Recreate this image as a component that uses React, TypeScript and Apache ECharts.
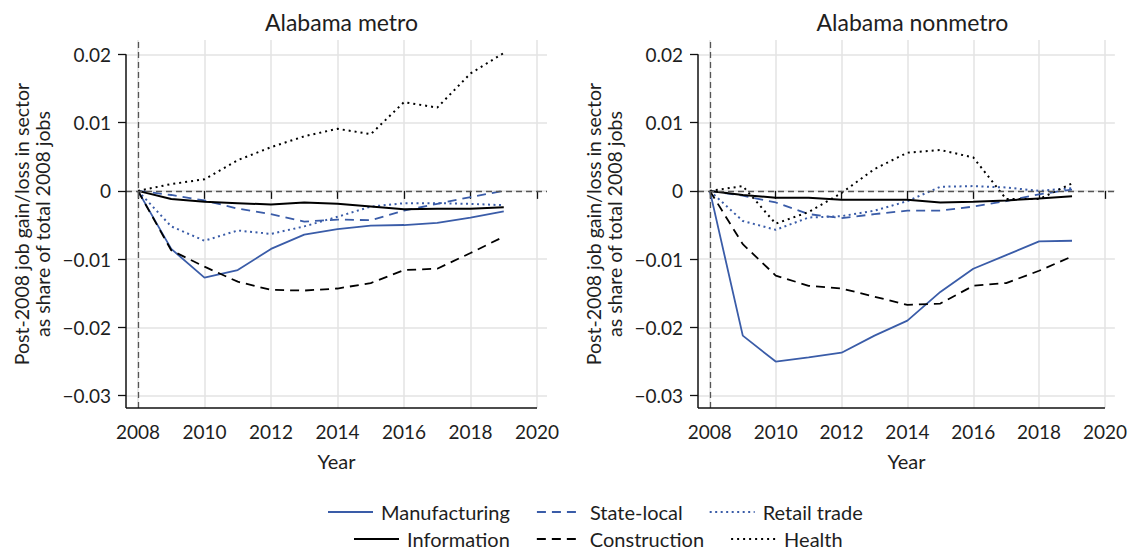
import React, { useEffect, useRef } from "react";
import * as echarts from "echarts";

// Years of observation and axis ticks
const years = [2008, 2009, 2010, 2011, 2012, 2013, 2014, 2015, 2016, 2017, 2018, 2019];
const xTicks = [2008, 2010, 2012, 2014, 2016, 2018, 2020];
const yTicks = [-0.03, -0.02, -0.01, 0, 0.01, 0.02];
const panelTitles = ["Alabama metro", "Alabama nonmetro"];
const sectorNames = ["Manufacturing", "State-local", "Retail trade", "Information", "Construction", "Health"];
const yAxisTitle = "Post-2008 job gain/loss in sector\nas share of total 2008 jobs";
const xAxisTitle = "Year";

// Alabama metro: post-2008 change as share of total 2008 jobs
const metroManufacturing = [0, -0.0085, -0.0127, -0.0116, -0.0085, -0.0064, -0.0056, -0.0051, -0.005, -0.0047, -0.0039, -0.003];
const metroStateLocal = [0, -0.0006, -0.0014, -0.0026, -0.0034, -0.0045, -0.0042, -0.0043, -0.0029, -0.0019, -0.0009, 0.0];
const metroRetail = [0, -0.0052, -0.0073, -0.0058, -0.0063, -0.0052, -0.0038, -0.0023, -0.0018, -0.0018, -0.0019, -0.0021];
const metroInformation = [0, -0.0012, -0.0016, -0.0018, -0.002, -0.0017, -0.0019, -0.0023, -0.0027, -0.0026, -0.0026, -0.0024];
const metroConstruction = [0, -0.0087, -0.0111, -0.0133, -0.0145, -0.0146, -0.0143, -0.0135, -0.0116, -0.0114, -0.0091, -0.0067];
const metroHealth = [0, 0.001, 0.0017, 0.0045, 0.0064, 0.008, 0.0091, 0.0083, 0.013, 0.0122, 0.0172, 0.0202];

// Alabama nonmetro
const nonmetroManufacturing = [0, -0.0212, -0.025, -0.0244, -0.0237, -0.0212, -0.019, -0.0148, -0.0114, -0.0094, -0.0074, -0.0073];
const nonmetroStateLocal = [0, -0.0007, -0.0017, -0.0034, -0.004, -0.0034, -0.0029, -0.0029, -0.0023, -0.0015, -0.0005, 0.0002];
const nonmetroRetail = [0, -0.0044, -0.0057, -0.0039, -0.0037, -0.0029, -0.0015, 0.0006, 0.0007, 0.0005, 0.0, 0.0004];
const nonmetroInformation = [0, -0.0006, -0.001, -0.001, -0.0013, -0.0013, -0.0013, -0.0017, -0.0016, -0.0014, -0.0011, -0.0008];
const nonmetroConstruction = [0, -0.0078, -0.0124, -0.0139, -0.0143, -0.0155, -0.0167, -0.0165, -0.0139, -0.0135, -0.0117, -0.0096];
const nonmetroHealth = [0, 0.0007, -0.0048, -0.0031, -0.0003, 0.0032, 0.0056, 0.006, 0.0049, -0.0012, -0.0012, 0.0011];

const panels = [
  [metroManufacturing, metroStateLocal, metroRetail, metroInformation, metroConstruction, metroHealth],
  [nonmetroManufacturing, nonmetroStateLocal, nonmetroRetail, nonmetroInformation, nonmetroConstruction, nonmetroHealth],
];

const BLUE = "#3a5ca8";
const BLACK = "#000000";
const TEXT = "#1e1e1e";
const FONT = "Lato, 'Noto Sans', sans-serif";

const lineStyles: any[] = [
  { color: BLUE, width: 1.8, type: "solid" },
  { color: BLUE, width: 1.8, type: [9, 6] },
  { color: BLUE, width: 2, type: [2, 3.5] },
  { color: BLACK, width: 2, type: "solid" },
  { color: BLACK, width: 1.8, type: [9, 6] },
  { color: BLACK, width: 2, type: [2, 4] },
];

const X_MIN = 2007.64;
const X_MAX = 2020.3;
const Y_MIN = -0.0318;
const Y_MAX = 0.0221;

const fmtY = (v: number) => {
  if (Math.abs(v) < 1e-9) return "0";
  return (v < 0 ? "\u2212" : "") + Math.abs(v).toFixed(2);
};

const gridBoxes = [
  { left: 126, top: 40, width: 421, height: 368 },
  { left: 698, top: 40, width: 419, height: 368 },
];

function buildOption() {
  const grid = gridBoxes.map((g) => ({ ...g, containLabel: false }));

  const xAxis = gridBoxes.map((_, i) => ({
    type: "value",
    gridIndex: i,
    min: X_MIN,
    max: X_MAX,
    name: xAxisTitle,
    nameLocation: "middle",
    nameGap: 43,
    nameTextStyle: { fontSize: 20, color: TEXT, fontFamily: FONT },
    axisLine: { show: false },
    axisTick: {
      show: true,
      length: 8,
      customValues: xTicks,
      lineStyle: { color: "#111", width: 1.3 },
    },
    axisLabel: {
      customValues: xTicks,
      margin: 14,
      fontSize: 19,
      color: TEXT,
      fontFamily: FONT,
      formatter: (v: number) => String(Math.round(v)),
    },
    splitLine: { show: true, lineStyle: { color: "#e3e3e3", width: 1.5 } },
  }));

  const yAxis = gridBoxes.map((_, i) => ({
    type: "value",
    gridIndex: i,
    min: Y_MIN,
    max: Y_MAX,
    name: yAxisTitle,
    nameLocation: "middle",
    nameRotate: 90,
    nameGap: 73,
    nameTextStyle: { fontSize: 19.5, lineHeight: 21, color: TEXT, fontFamily: FONT },
    axisLine: { show: false },
    axisTick: {
      show: true,
      length: 8,
      customValues: yTicks,
      lineStyle: { color: "#111", width: 1.3 },
    },
    axisLabel: {
      customValues: yTicks,
      margin: 15,
      fontSize: 19,
      color: TEXT,
      fontFamily: FONT,
      formatter: fmtY,
    },
    splitLine: { show: true, lineStyle: { color: "#e3e3e3", width: 1.5 } },
  }));

  const series: any[] = [];
  panels.forEach((panel, p) => {
    // reference lines and axis lines of the panel
    series.push({
      type: "line",
      name: "__ref" + p,
      xAxisIndex: p,
      yAxisIndex: p,
      data: [],
      silent: true,
      z: 1,
      markLine: {
        silent: true,
        symbol: "none",
        label: { show: false },
        animation: false,
        data: [
          [
            { coord: [X_MIN, 0], lineStyle: { color: "#555", width: 1.3, type: [6, 4] } },
            { coord: [X_MAX, 0] },
          ],
          [
            { coord: [years[0], Y_MIN], lineStyle: { color: "#555", width: 1.3, type: [6, 4] } },
            { coord: [years[0], Y_MAX] },
          ],
          [
            { coord: [X_MIN, Y_MIN], lineStyle: { color: "#111", width: 1.5, type: "solid" } },
            { coord: [X_MIN, yTicks[yTicks.length - 1]] },
          ],
          [
            { coord: [X_MIN, Y_MIN], lineStyle: { color: "#111", width: 1.5, type: "solid" } },
            { coord: [xTicks[xTicks.length - 1], Y_MIN] },
          ],
        ],
      },
    });
    panel.forEach((values, k) => {
      series.push({
        type: "line",
        name: sectorNames[k],
        xAxisIndex: p,
        yAxisIndex: p,
        data: years.map((y, j) => [y, values[j]]),
        symbol: "none",
        showSymbol: false,
        lineStyle: lineStyles[k],
        itemStyle: { color: lineStyles[k].color },
        z: 3,
      });
    });
  });

  const legendCommon = {
    orient: "horizontal",
    padding: 0,
    itemWidth: 45,
    itemHeight: 14,
    itemGap: 26,
    selectedMode: false,
    itemStyle: { opacity: 0 },
    textStyle: { fontSize: 20, lineHeight: 18, color: TEXT, fontFamily: FONT, padding: [0, 0, 0, 3] },
  };

  return {
    animation: false,
    backgroundColor: "#ffffff",
    textStyle: { fontFamily: FONT },
    title: panelTitles.map((t, i) => ({
      text: t,
      left: gridBoxes[i].left + gridBoxes[i].width / 2,
      top: 5,
      textAlign: "center",
      textStyle: { fontSize: 23, fontWeight: "normal", color: TEXT, fontFamily: FONT },
    })),
    legend: [
      { ...legendCommon, data: sectorNames.slice(0, 3), left: 327, top: 502 },
      { ...legendCommon, data: sectorNames.slice(3), left: 353, top: 529 },
    ],
    grid,
    xAxis,
    yAxis,
    series,
  };
}

export default function App() {
  const ref = useRef<HTMLDivElement>(null);
  useEffect(() => {
    document.body.style.margin = "0";
    if (!ref.current) return;
    const chart = echarts.init(ref.current, null, { renderer: "svg" });
    chart.setOption(buildOption() as any);
    return () => chart.dispose();
  }, []);
  return <div ref={ref} style={{ width: 1130, height: 550 }} />;
}
